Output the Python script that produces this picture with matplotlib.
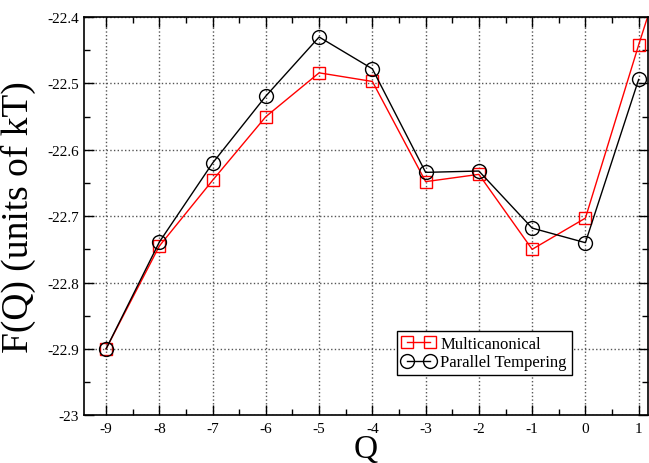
import numpy as np
import matplotlib.pyplot as plt
from matplotlib.ticker import MultipleLocator

plt.rcParams['font.family'] = ['Liberation Serif', 'DejaVu Serif']

q_muca = [-9, -8, -7, -6, -5, -4, -3, -2, -1, 0, 1, 2]
f_muca = [-22.900, -22.745, -22.646, -22.550, -22.484, -22.497, -22.648, -22.637, -22.750, -22.703, -22.442, -22.19]

q_pt = [-9, -8, -7, -6, -5, -4, -3, -2, -1, 0, 1]
f_pt = [-22.900, -22.739, -22.620, -22.519, -22.430, -22.478, -22.634, -22.632, -22.718, -22.740, -22.494]

fig = plt.figure(figsize=(6.49, 4.64), dpi=100)
ax = fig.add_axes([0.129, 0.103, 0.869, 0.858])

ax.plot(q_muca, f_muca, color='red', lw=1, marker='s', ms=8, mfc='none', mec='red',
        mew=1, label='Multicanonical')
ax.plot(q_pt, f_pt, color='black', lw=1, marker='o', ms=10, mfc='none', mec='black',
        mew=1, label='Parallel Tempering')

ax.set_xlim(-9.42, 1.17)
ax.set_ylim(-23, -22.4)
ax.xaxis.set_minor_locator(MultipleLocator(0.5))
ax.yaxis.set_minor_locator(MultipleLocator(0.05))
ax.set_yticks(np.arange(-23, -22.35, 0.1))
ax.set_yticklabels(['-23', '-22.9', '-22.8', '-22.7', '-22.6', '-22.5', '-22.4'])
ax.set_xticks(range(-9, 2))
ax.set_xticklabels([str(i) for i in range(-9, 2)])

ax.tick_params(which='both', direction='in', top=True, right=True, labelsize=11, width=1)
ax.tick_params(which='major', length=7)
ax.tick_params(which='minor', length=4)
ax.tick_params(axis='x', pad=5)
ax.grid(True, which='major', ls=':', color='#555555', lw=1)
for s in ax.spines.values():
    s.set_linewidth(1.2)

ax.set_xlabel('Q', fontsize=24, labelpad=-1)
ax.set_ylabel('F(Q) (units of kT)', fontsize=27, labelpad=8)

leg = ax.legend(loc='lower left', bbox_to_anchor=(0.555, 0.10), fontsize=12, numpoints=2,
                fancybox=False, framealpha=1, edgecolor='black', borderpad=0.3,
                handlelength=2.0, handletextpad=0.3, labelspacing=0.15, borderaxespad=0)
leg.get_frame().set_linewidth(1)

fig.savefig('out.png', dpi=100)
